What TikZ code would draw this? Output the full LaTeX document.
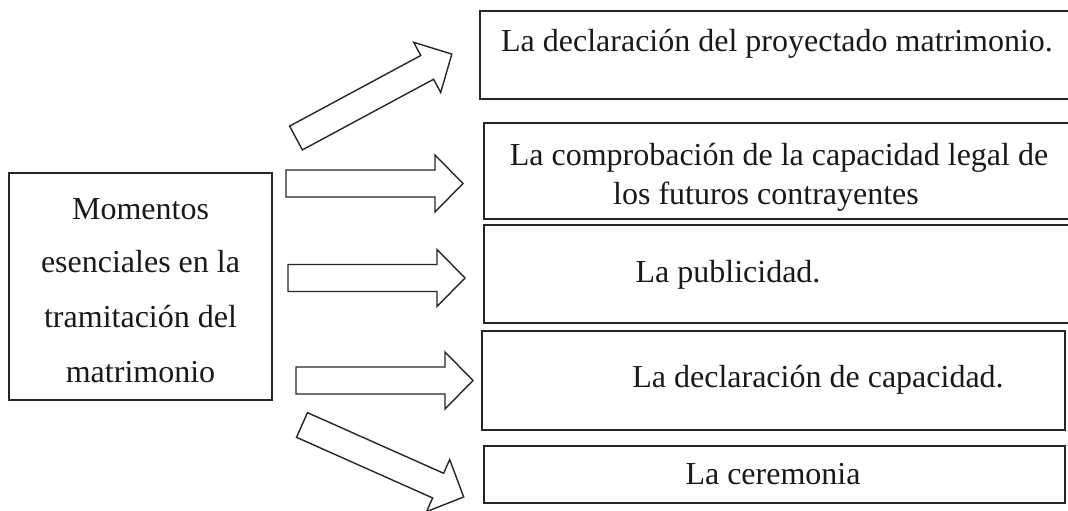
\documentclass[tikz,border=0pt]{standalone}
\usepackage{fontspec}
\setmainfont{Liberation Serif}
\tikzset{
  box/.style={draw=black!85, line width=1.3pt, inner sep=0pt, outer sep=0pt},
  txt/.style={inner sep=0pt, anchor=base, font=\fontsize{32}{38}\selectfont, text=black!90},
  blockarr/.style={draw=black!85, line width=1.4pt, fill=white, line join=miter},
}
% #1 name, #2 tail midpoint, #3 angle, #4 total length
\newcommand{\blockarrow}[4]{%
  \coordinate (#1-tail) at #2;
  \begin{scope}[shift={#2}, rotate=#3]
    \draw[blockarr] (0,-13.5) -- ({#4-28},-13.5) -- ({#4-28},-28.5) -- (#4,0)
      -- ({#4-28},28.5) -- ({#4-28},13.5) -- (0,13.5) -- cycle;
    \coordinate (#1-tip) at (#4,0);
  \end{scope}}
\begin{document}
\begin{tikzpicture}[x=1pt, y=-1pt]
\useasboundingbox (0,0) rectangle (1068,511);
\clip (0,0) rectangle (1068,511);
% left box
\node[box, minimum width=263pt, minimum height=227pt] (main) at (140.5,286.5) {};
\node[txt] (m1) at (140.5,219) {Momentos};
\node[txt] (m2) at (140.5,272) {esenciales en la};
\node[txt] (m3) at (140.5,327) {tramitación del};
\node[txt] (m4) at (140.5,382) {matrimonio};
% right boxes
\node[box, minimum width=600pt, minimum height=88pt] (b1) at (780,55) {};
\node[box, minimum width=596pt, minimum height=96pt] (b2) at (782,171) {};
\node[box, minimum width=596pt, minimum height=98pt] (b3) at (782,274) {};
\node[box, minimum width=583pt, minimum height=99pt] (b4) at (773.5,380.5) {};
\node[box, minimum width=581pt, minimum height=57pt] (b5) at (774.5,474.5) {};
\node[txt] (t1) at (777,52) {La declaración del proyectado matrimonio.};
\node[txt] (t2a) at (779,165) {La comprobación de la capacidad legal de};
\node[txt] (t2b) at (766,204) {los futuros contrayentes};
\node[txt] (t3) at (728,282) {La publicidad.};
\node[txt] (t4) at (818,387) {La declaración de capacidad.};
\node[txt] (t5) at (773,484) {La ceremonia};
% block arrows
\blockarrow{a1}{(296,138)}{28.3}{177}
\blockarrow{a2}{(286,183.5)}{0}{177}
\blockarrow{a3}{(288,278)}{0}{177}
\blockarrow{a4}{(296,380.5)}{0}{177}
\blockarrow{a5}{(302,425)}{-24}{177}
\end{tikzpicture}
\end{document}
